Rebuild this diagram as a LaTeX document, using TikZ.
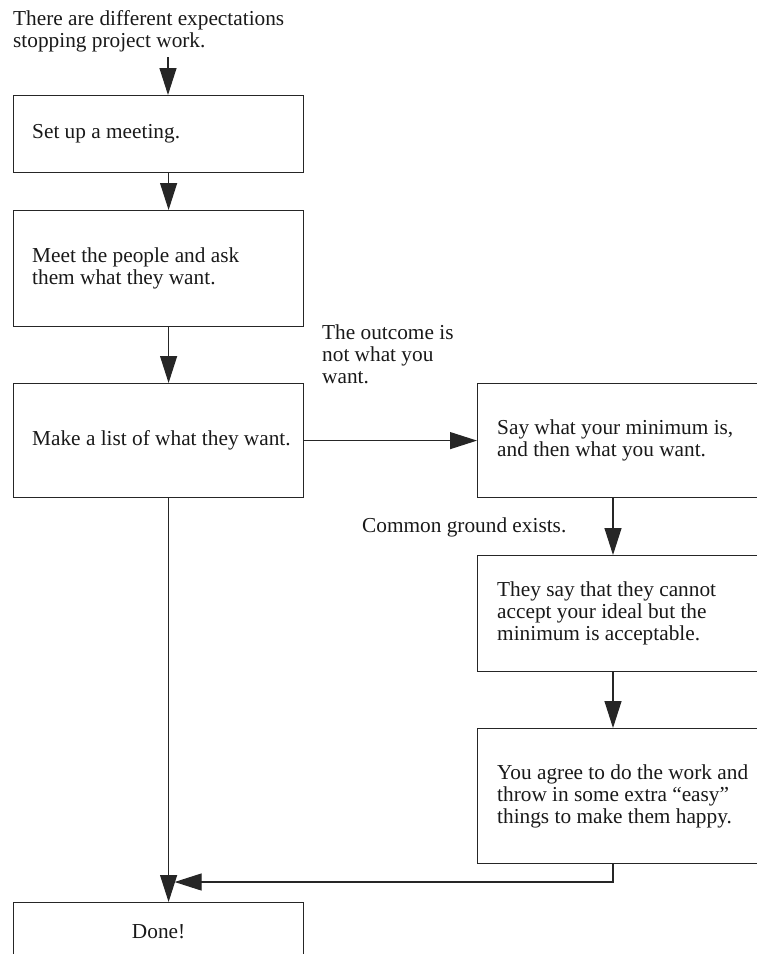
\documentclass[tikz,border=0pt]{standalone}
\usepackage{fontspec}
\setmainfont{Liberation Serif}
\usetikzlibrary{arrows.meta}
\begin{document}
\begin{tikzpicture}[x=1pt, y=-1pt,
  font=\fontsize{21.3}{22}\selectfont,
  every node/.style={text=black!90},
  stepbox/.style={draw=black!85, line width=1.2pt, inner sep=0pt, anchor=north west},
  lbox/.style={stepbox, minimum width=290pt},
  rbox/.style={stepbox, minimum width=300pt},
  boxtext/.style={anchor=west, align=left, inner sep=0pt},
  ltext/.style={boxtext, xshift=19pt},
  rtext/.style={boxtext, xshift=20pt},
  note/.style={anchor=base west, align=left, inner sep=0pt},
  flow/.style={draw=black!85, line width=1.2pt, -{Triangle[length=27pt,width=17pt]}},
]
\useasboundingbox (0,0) rectangle (757,954);
\clip (0,0) rectangle (757,954);

% left column of steps
\node[lbox, minimum height=77pt]  (b1) at (13,95)  {};
\node[lbox, minimum height=116pt] (b2) at (13,210) {};
\node[lbox, minimum height=114pt] (b3) at (13,383) {};
\node[lbox, minimum height=58pt]  (b7) at (13,902) {Done!};

% right column of steps
\node[rbox, minimum height=114pt] (b4) at (477,383) {};
\node[rbox, minimum height=116pt] (b5) at (477,555) {};
\node[rbox, minimum height=135pt] (b6) at (477,728) {};

% step texts
\node[ltext] (t1) at (b1.west) {Set up a meeting.};
\node[ltext] (t2) at (b2.west) {Meet the people and ask\\them what they want.};
\node[ltext] (t3) at (b3.west) {Make a list of what they want.};
\node[rtext] (t4) at (b4.west) {Say what your minimum is,\\and then what you want.};
\node[rtext] (t5) at (b5.west) {They say that they cannot\\accept your ideal but the\\minimum is acceptable.};
\node[rtext] (t6) at (b6.west) {You agree to do the work and\\throw in some extra “easy”\\things to make them happy.};

% free texts (anchored at the baseline of their last line)
\node[note] (t0) at (13,47) {There are different expectations\\stopping project work.};
\node[note] (l1) at (322,383) {The outcome is\\not what you\\want.};
\node[note] (l2) at (362,532) {Common ground exists.};

% connectors
\coordinate (c0) at (168,57);
\draw[flow] (c0) -- (c0 |- b1.north);
\draw[flow] ([xshift=10pt]b1.south) -- ([xshift=10pt]b2.north);
\draw[flow] ([xshift=10pt]b2.south) -- ([xshift=10pt]b3.north);
\draw[flow] (b3.east) -- (b4.west);
\draw[flow] ([xshift=136pt]b4.south west) -- ([xshift=136pt]b5.north west);
\draw[flow] ([xshift=136pt]b5.south west) -- ([xshift=136pt]b6.north west);
\draw[flow] ([xshift=10pt]b3.south) -- ([xshift=10pt]b7.north);
\coordinate (merge) at ([xshift=16pt,yshift=20pt]b7.north);
\draw[flow] ([xshift=136pt]b6.south west) |- (merge);
\end{tikzpicture}
\end{document}
